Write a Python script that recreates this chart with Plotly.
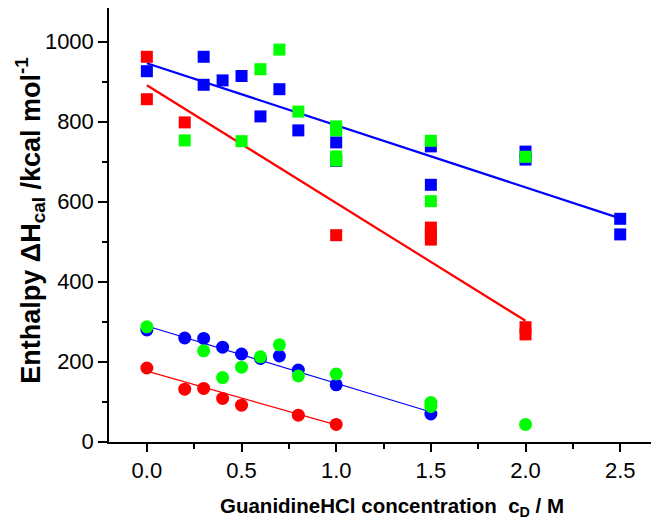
import plotly.graph_objects as go

# squares (upper group)
red_sq_x = [0.0, 0.0, 0.2, 1.0, 1.5, 1.5, 1.5, 2.0, 2.0]
red_sq_y = [962, 856, 798, 516, 535, 520, 505, 286, 268]
blue_sq_x = [0.0, 0.3, 0.3, 0.4, 0.5, 0.6, 0.7, 0.8, 1.0, 1.0, 1.5, 1.5, 2.0, 2.0, 2.5, 2.5]
blue_sq_y = [926, 962, 892, 903, 914, 813, 881, 778, 748, 702, 738, 642, 725, 705, 557, 518]
green_sq_x = [0.2, 0.5, 0.6, 0.7, 0.8, 1.0, 1.0, 1.0, 1.0, 1.5, 1.5, 2.0]
green_sq_y = [753, 751, 931, 980, 825, 788, 778, 713, 703, 752, 601, 712]

# circles (lower group)
red_ci_x = [0.0, 0.2, 0.3, 0.4, 0.5, 0.8, 1.0]
red_ci_y = [184, 131, 133, 108, 91, 66, 43]
blue_ci_x = [0.0, 0.2, 0.3, 0.4, 0.5, 0.6, 0.7, 0.8, 1.0, 1.5]
blue_ci_y = [279, 259, 258, 236, 219, 208, 214, 179, 142, 69]
green_ci_x = [0.0, 0.3, 0.4, 0.5, 0.6, 0.7, 0.8, 1.0, 1.5, 1.5, 2.0]
green_ci_y = [287, 227, 160, 186, 212, 242, 164, 169, 98, 88, 43]

# linear fits
blue_fit_x = [0.0, 2.5]
blue_fit_y = [946, 558]
red_fit_x = [0.0, 2.0]
red_fit_y = [891, 302]
blue_fit2_x = [0.0, 1.5]
blue_fit2_y = [289, 74]
red_fit2_x = [0.0, 1.0]
red_fit2_y = [176, 42]

RED = '#FF0000'
BLUE = '#0000FF'
GREEN = '#00FF00'
FONT = 'Liberation Sans, Arial, sans-serif'

fig = go.Figure()

for fx, fy, c, w in [(blue_fit_x, blue_fit_y, BLUE, 2.2), (red_fit_x, red_fit_y, RED, 2.2),
                     (blue_fit2_x, blue_fit2_y, BLUE, 1.2), (red_fit2_x, red_fit2_y, RED, 1.2)]:
    fig.add_trace(go.Scatter(x=fx, y=fy, mode='lines', line=dict(color=c, width=w),
                             showlegend=False, hoverinfo='skip'))

for sx, sy, c in [(red_sq_x, red_sq_y, RED), (blue_sq_x, blue_sq_y, BLUE), (green_sq_x, green_sq_y, GREEN)]:
    fig.add_trace(go.Scatter(x=sx, y=sy, mode='markers',
                             marker=dict(symbol='square', size=12, color=c, line=dict(width=0)),
                             showlegend=False))

for sx, sy, c in [(red_ci_x, red_ci_y, RED), (blue_ci_x, blue_ci_y, BLUE), (green_ci_x, green_ci_y, GREEN)]:
    fig.add_trace(go.Scatter(x=sx, y=sy, mode='markers',
                             marker=dict(symbol='circle', size=13, color=c, line=dict(width=0)),
                             showlegend=False))

tick_font = dict(family=FONT, size=22, color='black')

# page body has an 8px margin, so the figure is sized to fit the window
fig.update_layout(
    width=651, height=519,
    margin=dict(l=101, r=0, t=0, b=85),
    plot_bgcolor='white', paper_bgcolor='white',
    font=tick_font,
    xaxis=dict(range=[-0.2, 2.705], dtick=0.5, tick0=0, tickformat='.1f',
               ticks='outside', ticklen=8, tickwidth=1.5, tickcolor='black',
               minor=dict(dtick=0.25, ticks='outside', ticklen=5, tickwidth=1.5, tickcolor='black'),
               showline=True, linecolor='black', linewidth=1.5, showgrid=False, zeroline=False,
               tickfont=tick_font, automargin=False),
    yaxis=dict(range=[-1, 1084], dtick=200, tick0=0,
               ticks='outside', ticklen=9, tickwidth=1.5, tickcolor='black',
               minor=dict(dtick=100, ticks='outside', ticklen=5, tickwidth=1.5, tickcolor='black'),
               showline=True, linecolor='black', linewidth=1.5, showgrid=False, zeroline=False,
               tickfont=tick_font, automargin=False),
)

fig.add_annotation(
    text='<b>GuanidineHCl concentration  c<sub>D</sub> / M</b>',
    xref='paper', yref='paper', x=0.5145, y=-0.15, xanchor='center', yanchor='middle',
    showarrow=False, font=dict(family=FONT, size=20.5, color='black'))

fig.add_annotation(
    text='<b>Enthalpy \u0394H<sub>cal</sub> /kcal mol<sup>-1</sup></b>',
    xref='paper', yref='paper', x=-0.1436, y=0.51, xanchor='center', yanchor='middle',
    textangle=-90, showarrow=False,
    font=dict(family=FONT, size=27, color='black'))

fig.write_html("out.html")
